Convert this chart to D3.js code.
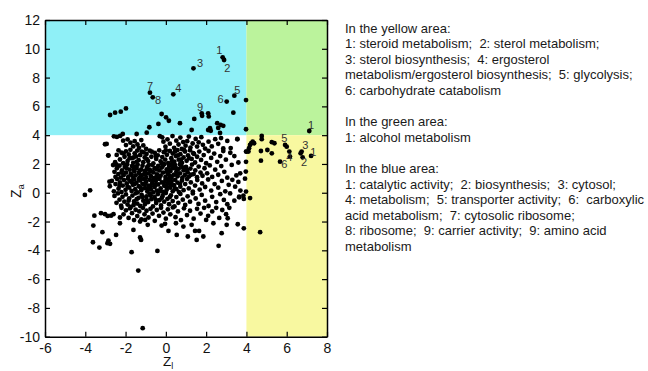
<!DOCTYPE html>
<html>
<head>
<meta charset="utf-8">
<script src="https://cdn.jsdelivr.net/npm/d3@7"></script>
<style>
  body { margin: 0; background: #fff; }
  text { font-family: "Liberation Sans", Arial, Helvetica, sans-serif; }
</style>
</head>
<body>
<div id="chart"></div>
<script>
// axis ticks
const xTicks = [-6, -4, -2, 0, 2, 4, 6, 8];
const yTicks = [-10, -8, -6, -4, -2, 0, 2, 4, 6, 8, 10, 12];

// shaded areas [name, x0, x1, y0, y1]
const areas = [
    ['blue', -6, 4, 4, 12],
    ['green', 4, 8, 4, 12],
    ['yellow', 4, 8, -10, 4]
];
const areaColors = { blue: '#8ff0f7', green: '#bbf39c', yellow: '#f8f8a0' };

// points above Za = 4, left of Zl = 4
const bluePoints = [
    [2.82, 9.41], [2.89, 9.22], [1.37, 8.64], [-0.79, 6.95], [-0.65, 6.63], [0.37, 6.84],
    [3.02, 6.33], [3.4, 6.74], [3.98, 6.44], [3.35, 5.56], [3.98, 4.41], [1.78, 5.52],
    [1.8, 5.34], [2.1, 5.52], [2.13, 5.3], [1.41, 5.13], [0.7, 4.83], [0.01, 5.24],
    [0.15, 5.0], [-0.21, 5.47], [-0.37, 4.78], [-0.82, 4.55], [-0.95, 4.17], [1.28, 4.36],
    [2.19, 4.48], [2.23, 4.3], [2.55, 4.83], [2.72, 4.72], [2.85, 4.65], [2.69, 4.15],
    [-2.77, 5.4], [-2.52, 5.56], [-2.24, 5.63], [-1.98, 5.86], [-2.14, 4.08], [-1.45, 4.08],
    [2.1, 4.36], [2.6, 4.5]
];
const greenPoints = [[7.12, 4.29]];
const yellowPoints = [
    [4.76, 3.95], [4.76, 3.72], [4.31, 3.55], [4.38, 3.44], [4.24, 3.44], [4.18, 3.32],
    [4.01, 2.86], [4.13, 3.09], [4.72, 2.9], [4.72, 2.23], [5.04, 2.97], [5.26, 2.74],
    [5.26, 3.51], [5.39, 3.44], [5.92, 3.32], [6.0, 3.2], [6.13, 2.86], [6.16, 2.51],
    [5.67, 2.16], [6.74, 2.86], [6.69, 2.74], [6.79, 2.46], [7.21, 2.56], [4.68, -2.74],
    [4.18, -0.37], [4.1, 2.86]
];

// main cloud, band by band (Za 3..4)
const cloudTop = [
    [-2.58, 3.92], [-2.43, 3.88], [-2.27, 3.95], [-2.12, 3.62], [-1.98, 3.31], [-1.9, 3.71], [-1.76, 3.48],
    [-1.62, 3.22], [-1.55, 3.58], [-1.41, 3.35], [-1.33, 3.12], [-1.22, 3.66], [-1.12, 3.29], [-0.98, 3.05],
    [-0.3, 3.93], [-0.18, 3.85], [-0.12, 3.55], [-0.02, 3.2], [0.08, 3.71], [0.2, 3.41], [0.33, 3.94],
    [0.41, 3.12], [0.52, 3.62], [0.63, 3.35], [0.72, 3.83], [0.79, 3.04], [0.86, 3.52], [0.98, 3.27],
    [1.06, 3.58], [1.14, 3.9], [1.22, 3.14], [1.33, 3.42], [1.48, 3.74], [1.55, 3.21], [1.63, 3.5],
    [1.76, 3.86], [1.84, 3.33], [1.95, 3.07], [2.12, 3.55], [2.28, 3.22], [2.45, 3.72], [2.6, 3.4],
    [2.74, 3.8], [2.85, 3.08], [3.05, 3.6], [3.55, 3.74], [3.22, 3.1]
];
// Za 2..3
const cloudUpper = [
    [-2.52, 2.12], [-2.44, 2.63], [-2.35, 2.95], [-2.28, 2.31], [-2.2, 2.78], [-2.12, 2.05], [-2.05, 2.5],
    [-1.98, 2.88], [-1.9, 2.2], [-1.84, 2.66], [-1.76, 2.98], [-1.7, 2.4], [-1.62, 2.08], [-1.55, 2.74],
    [-1.48, 2.52], [-1.42, 2.93], [-1.35, 2.26], [-1.28, 2.61], [-1.2, 2.85], [-1.12, 2.12], [-1.05, 2.45],
    [-0.96, 2.7], [-0.88, 2.2], [-0.8, 2.92], [-0.72, 2.5], [-0.62, 2.03], [-0.55, 2.77], [-0.48, 2.35],
    [-0.4, 2.6], [-0.33, 2.95], [-0.26, 2.18], [-0.18, 2.48], [-0.1, 2.82], [-0.03, 2.3], [0.05, 2.64],
    [0.12, 2.06], [0.2, 2.9], [0.27, 2.4], [0.34, 2.72], [0.42, 2.16], [0.5, 2.55], [0.57, 2.96],
    [0.64, 2.3], [0.72, 2.68], [0.8, 2.08], [0.88, 2.45], [0.95, 2.86], [1.03, 2.22], [1.1, 2.6],
    [1.2, 2.95], [1.28, 2.35], [1.36, 2.75], [1.45, 2.1], [1.55, 2.5], [1.66, 2.86], [1.75, 2.28],
    [1.88, 2.62], [2.0, 2.05], [2.12, 2.9], [2.25, 2.42], [2.4, 2.72], [2.55, 2.15], [2.7, 2.55],
    [2.85, 2.9], [2.98, 2.3], [3.2, 2.78], [3.4, 2.55], [3.6, 2.1],
    [-1.6, 2.45], [-1.45, 2.15], [-1.1, 2.8], [-0.95, 2.35], [-0.7, 2.85], [-0.2, 2.05], [0.0, 2.95],
    [0.3, 2.2], [0.6, 2.6], [0.9, 2.98], [1.15, 2.4], [-2.1, 2.72], [-1.8, 2.4], [-0.5, 2.55],
    [0.45, 2.85], [0.75, 2.3], [1.4, 2.7]
];
// Za 1..2
const cloudMiddle = [
    [-2.62, 1.92], [-2.55, 1.45], [-2.5, 1.1], [-2.43, 1.7], [-2.36, 1.3], [-2.3, 1.88], [-2.24, 1.05],
    [-2.18, 1.55], [-2.1, 1.22], [-2.04, 1.78], [-1.98, 1.4], [-1.92, 1.98], [-1.86, 1.12], [-1.8, 1.6],
    [-1.74, 1.32], [-1.68, 1.85], [-1.62, 1.02], [-1.56, 1.5], [-1.5, 1.2], [-1.45, 1.72], [-1.4, 1.95],
    [-1.34, 1.38], [-1.28, 1.08], [-1.22, 1.62], [-1.16, 1.88], [-1.1, 1.28], [-1.04, 1.5], [-0.98, 1.04],
    [-0.92, 1.8], [-0.86, 1.34], [-0.8, 1.6], [-0.74, 1.15], [-0.68, 1.94], [-0.62, 1.42], [-0.56, 1.7],
    [-0.5, 1.06], [-0.44, 1.28], [-0.38, 1.86], [-0.32, 1.55], [-0.26, 1.18], [-0.2, 1.75], [-0.14, 1.4],
    [-0.08, 1.98], [-0.02, 1.1], [0.04, 1.62], [0.1, 1.3], [0.16, 1.85], [0.22, 1.5], [0.28, 1.04],
    [0.34, 1.7], [0.4, 1.25], [0.46, 1.92], [0.52, 1.45], [0.58, 1.14], [0.64, 1.66], [0.7, 1.35],
    [0.76, 1.88], [0.82, 1.05], [0.88, 1.55], [0.94, 1.22], [1.0, 1.8], [1.08, 1.42], [1.15, 1.12],
    [1.22, 1.68], [1.3, 1.96], [1.38, 1.3], [1.46, 1.55], [1.55, 1.08], [1.63, 1.82], [1.72, 1.4],
    [1.82, 1.18], [1.92, 1.7], [2.05, 1.35], [2.18, 1.9], [2.3, 1.1], [2.45, 1.6], [2.6, 1.25],
    [2.75, 1.85], [2.9, 1.45], [3.05, 1.05], [3.27, 1.93], [3.5, 1.2], [3.69, 1.35], [3.97, 1.47],
    [-1.95, 1.7], [-1.7, 1.25], [-1.52, 1.82], [-1.3, 1.52], [-1.2, 1.2], [-0.95, 1.65], [-0.85, 1.92],
    [-0.7, 1.48], [-0.45, 1.62], [-0.35, 1.05], [-0.15, 1.88], [0.05, 1.45], [0.2, 1.18], [0.3, 1.95],
    [0.5, 1.7], [0.6, 1.32], [0.85, 1.75], [1.05, 1.58], [1.25, 1.25], [-2.2, 1.4], [-1.6, 1.62],
    [-1.0, 1.3], [-0.6, 1.02], [0.15, 1.62], [0.7, 1.98], [-2.45, 1.95]
];
// Za 0..1
const cloudLower = [
    [-2.78, 0.45], [-2.68, 0.82], [-2.58, 0.1], [-2.5, 0.6], [-2.42, 0.95], [-2.35, 0.28], [-2.28, 0.72],
    [-2.2, 0.05], [-2.14, 0.5], [-2.08, 0.88], [-2.0, 0.2], [-1.94, 0.65], [-1.88, 0.98], [-1.82, 0.35],
    [-1.76, 0.8], [-1.7, 0.12], [-1.64, 0.55], [-1.58, 0.92], [-1.52, 0.25], [-1.46, 0.7], [-1.4, 0.02],
    [-1.34, 0.45], [-1.28, 0.85], [-1.22, 0.18], [-1.16, 0.62], [-1.1, 0.95], [-1.04, 0.32], [-0.98, 0.75],
    [-0.92, 0.08], [-0.86, 0.5], [-0.8, 0.9], [-0.74, 0.22], [-0.68, 0.66], [-0.62, 0.02], [-0.56, 0.4],
    [-0.5, 0.82], [-0.44, 0.15], [-0.38, 0.58], [-0.32, 0.96], [-0.26, 0.3], [-0.2, 0.72], [-0.14, 0.06],
    [-0.08, 0.48], [-0.02, 0.88], [0.04, 0.2], [0.1, 0.64], [0.16, 0.98], [0.22, 0.35], [0.28, 0.78],
    [0.34, 0.1], [0.4, 0.52], [0.46, 0.9], [0.52, 0.25], [0.58, 0.7], [0.65, 0.05], [0.72, 0.42],
    [0.8, 0.85], [0.88, 0.18], [0.96, 0.6], [1.05, 0.95], [1.14, 0.3], [1.24, 0.72], [1.34, 0.08],
    [1.45, 0.5], [1.56, 0.88], [1.68, 0.22], [1.8, 0.65], [1.95, 0.4], [2.1, 0.92], [2.25, 0.15],
    [2.42, 0.6], [2.6, 0.35], [2.78, 0.82], [2.95, 0.1], [3.12, 0.55], [3.3, 0.9], [3.44, 0.42],
    [3.7, 0.15], [3.93, 0.98], [3.6, 0.75],
    [-1.9, 0.42], [-1.55, 0.6], [-1.25, 0.35], [-1.05, 0.58], [-0.9, 0.3], [-0.65, 0.85], [-0.5, 0.55],
    [-0.3, 0.1], [-0.1, 0.7], [0.05, 0.4], [0.25, 0.55], [0.45, 0.3], [0.7, 0.62], [-1.7, 0.75],
    [-1.35, 0.95], [-0.75, 0.45], [0.15, 0.85], [-2.3, 0.48]
];
// Za -1..0
const cloudBelow = [
    [-2.55, -0.22], [-2.45, -0.7], [-2.38, -0.05], [-2.3, -0.48], [-2.22, -0.9], [-2.15, -0.28], [-2.06, -0.62],
    [-1.98, -0.12], [-1.9, -0.82], [-1.82, -0.4], [-1.74, -0.98], [-1.66, -0.2], [-1.58, -0.6], [-1.5, -0.04],
    [-1.42, -0.75], [-1.35, -0.35], [-1.27, -0.92], [-1.2, -0.15], [-1.12, -0.55], [-1.04, -0.8], [-0.96, -0.25],
    [-0.88, -0.65], [-0.8, -0.08], [-0.72, -0.45], [-0.64, -0.95], [-0.56, -0.3], [-0.48, -0.72], [-0.4, -0.1],
    [-0.32, -0.52], [-0.24, -0.88], [-0.16, -0.22], [-0.08, -0.62], [0.0, -0.02], [0.08, -0.42], [0.16, -0.8],
    [0.25, -0.18], [0.34, -0.58], [0.43, -0.95], [0.52, -0.3], [0.62, -0.7], [0.72, -0.08], [0.84, -0.48],
    [0.96, -0.85], [1.08, -0.25], [1.2, -0.62], [1.34, -0.05], [1.48, -0.4], [1.62, -0.78], [1.78, -0.15],
    [1.95, -0.55], [2.12, -0.92], [2.3, -0.28], [2.5, -0.65], [2.7, -0.1], [2.88, -0.5], [3.05, -0.8],
    [3.19, -0.05], [3.4, -0.55], [3.64, -0.27], [3.87, -0.43],
    [-1.85, -0.55], [-1.45, -0.45], [-1.15, -0.3], [-0.75, -0.2], [-0.5, -0.5], [-0.2, -0.35], [0.2, -0.3],
    [-1.6, -0.85], [-0.95, -0.5]
];
// Za -2..-1
const cloudBottom = [
    [-2.2, -1.05], [-2.1, -1.5], [-1.98, -1.22], [-1.85, -1.75], [-1.78, -1.08], [-1.68, -1.42], [-1.58, -1.9],
    [-1.5, -1.18], [-1.42, -1.62], [-1.32, -1.3], [-1.22, -1.85], [-1.14, -1.05], [-1.06, -1.5], [-0.96, -1.25],
    [-0.86, -1.72], [-0.76, -1.12], [-0.66, -1.45], [-0.55, -1.95], [-0.45, -1.2], [-0.34, -1.6], [-0.24, -1.05],
    [-0.12, -1.38], [0.0, -1.8], [0.1, -1.15], [0.22, -1.5], [0.35, -1.02], [0.48, -1.7], [0.6, -1.3],
    [0.75, -1.9], [0.9, -1.08], [1.05, -1.55], [1.2, -1.25], [1.38, -1.8], [1.55, -1.12], [1.72, -1.45],
    [1.9, -1.05], [2.1, -1.6], [2.3, -1.3], [2.5, -1.05], [2.65, -1.75], [2.8, -1.2], [2.99, -1.49],
    [3.07, -1.77], [3.15, -1.05]
];

// sparse points round the cloud
const outerPoints = [
    [-4.02, -0.15], [-3.76, 0.17], [-3.55, -1.59], [-3.6, -2.28], [-3.62, -3.44], [-3.3, -3.81],
    [-3.15, -2.74], [-3.22, -1.42], [-3.02, -1.49], [-2.89, -1.61], [-2.72, -1.59], [-2.6, -1.49],
    [-2.85, -3.32], [-2.77, -3.55], [-2.9, -3.5], [-2.47, -2.93], [-2.28, -1.72], [-2.28, -2.12],
    [-2.85, 2.58], [-3.02, 3.37], [-2.8, 0.77], [-1.7, -4.13], [-1.37, -5.41], [-1.23, -3.28],
    [-1.28, -3.11], [-0.42, -4.04], [-1.61, -2.58], [2.62, -3.69], [2.77, -2.81], [3.02, -2.23],
    [3.57, -2.19], [3.87, -2.47], [-1.15, -9.41], [3.85, -0.2], [3.98, 0.08], [3.64, -0.32],
    [-2.94, 3.39], [-2.86, 2.6], [0.54, -2.93], [1.09, -3.04], [1.45, -2.65], [1.65, -2.65],
    [1.86, -3.04], [1.53, -3.28], [0.87, -2.35], [1.28, -2.23], [2.0, -1.89], [2.36, -2.12],
    [0.13, -2.65], [-0.21, -2.28], [-0.9, -2.23], [-1.03, -1.89], [-1.28, -2.0], [0.5, -2.12],
    [-0.04, -2.16], [3.55, 3.71], [3.98, 2.86], [3.98, 2.15]
];

// numbered labels [text, Zl, Za]
const blueLabels = [['1', 2.65, 9.92], ['2', 3.05, 8.64], ['3', 1.7, 8.99], ['4', 0.62, 7.26],
    ['5', 3.55, 7.14], ['6', 2.72, 6.49], ['7', -0.79, 7.42], ['8', -0.39, 6.44], ['9', 1.7, 5.98]];
const greenLabels = [['1', 7.21, 4.71]];
const yellowLabels = [['5', 5.88, 3.78], ['3', 6.92, 3.32], ['1', 7.32, 2.86], ['4', 6.13, 2.51],
    ['2', 6.86, 2.12], ['6', 5.88, 2.0]];

// notes on the right
const yellowNotes = ['In the yellow area:',
    '1: steroid metabolism;  2: sterol metabolism;',
    '3: sterol biosynthesis;  4: ergosterol',
    'metabolism/ergosterol biosynthesis;  5: glycolysis;',
    '6: carbohydrate catabolism'];
const greenNotes = ['In the green area:', '1: alcohol metabolism'];
const blueNotes = ['In the blue area:',
    '1: catalytic activity;  2: biosynthesis;  3: cytosol;',
    '4: metabolism;  5: transporter activity;  6:  carboxylic',
    'acid metabolism;  7: cytosolic ribosome;',
    '8: ribosome;  9: carrier activity;  9: amino acid',
    'metabolism'];

const width = 648, height = 371;
const plotLeft = 45, plotRight = 327, plotTop = 20, plotBottom = 336.7;

const svg = d3.select('#chart')
    .append('svg')
        .attr('width', width)
        .attr('height', height);

const x = d3.scaleLinear().domain([-6, 8]).range([plotLeft, plotRight]);
const y = d3.scaleLinear().domain([-10, 12]).range([plotBottom, plotTop]);

svg.selectAll('rect.area')
    .data(areas)
    .join('rect')
        .attr('class', 'area')
        .attr('x', d => x(d[1]))
        .attr('y', d => y(d[4]))
        .attr('width', d => x(d[2]) - x(d[1]))
        .attr('height', d => y(d[3]) - y(d[4]))
        .attr('fill', d => areaColors[d[0]]);

const allPoints = [...cloudTop, ...cloudUpper, ...cloudMiddle, ...cloudLower, ...cloudBelow,
    ...cloudBottom, ...outerPoints, ...bluePoints, ...greenPoints, ...yellowPoints];

svg.append('g')
    .selectAll('circle')
    .data(allPoints)
    .join('circle')
        .attr('cx', d => x(d[0]))
        .attr('cy', d => y(d[1]))
        .attr('r', 2.4)
        .attr('fill', '#000');

svg.append('g')
    .selectAll('text')
    .data([...blueLabels, ...greenLabels, ...yellowLabels])
    .join('text')
        .attr('x', d => x(d[1]))
        .attr('y', d => y(d[2]))
        .attr('text-anchor', 'middle')
        .attr('dominant-baseline', 'central')
        .attr('font-size', 11)
        .attr('fill', '#333')
        .text(d => d[0]);

// axes, ticks point inward on all four sides
const tickLen = 5;
const fmt = d => String(d);

const axes = [
    [d3.axisBottom(x).tickValues(xTicks).tickFormat(fmt).tickPadding(6), `translate(0,${plotBottom})`],
    [d3.axisTop(x).tickValues(xTicks).tickFormat(''), `translate(0,${plotTop})`],
    [d3.axisLeft(y).tickValues(yTicks).tickFormat(fmt).tickPadding(5), `translate(${plotLeft},0)`],
    [d3.axisRight(y).tickValues(yTicks).tickFormat(''), `translate(${plotRight},0)`]
];
axes.forEach(([ax, tr]) => {
    const g = svg.append('g')
        .attr('transform', tr)
        .call(ax.tickSizeInner(-tickLen).tickSizeOuter(0));
    g.select('.domain').attr('stroke', '#000').attr('stroke-width', 1.5);
    g.selectAll('.tick line').attr('stroke', '#000').attr('stroke-width', 1.2);
    g.selectAll('.tick text')
        .attr('font-size', 14)
        .attr('font-family', '"Liberation Sans", Arial, sans-serif')
        .attr('fill', '#111');
});

// axis titles
const xTitle = svg.append('text')
    .attr('x', 163)
    .attr('y', 366)
    .attr('font-size', 13.5)
    .attr('fill', '#111');
xTitle.append('tspan').text('Z');
xTitle.append('tspan').attr('font-size', 9).attr('dy', 2.5).text('l');

const yTitle = svg.append('text')
    .attr('transform', 'translate(21,191) rotate(-90)')
    .attr('text-anchor', 'middle')
    .attr('font-size', 14)
    .attr('fill', '#111');
yTitle.append('tspan').text('Z');
yTitle.append('tspan').attr('font-size', 9.5).attr('dy', 2.5).text('a');

// notes block
const noteLines = [...yellowNotes, '', ...greenNotes, '', ...blueNotes];
svg.append('g')
    .selectAll('text')
    .data(noteLines)
    .join('text')
        .attr('x', 345)
        .attr('y', (d, i) => 32.5 + i * 15.6)
        .attr('font-size', 13)
        .attr('fill', '#1a1a1a')
        .style('white-space', 'pre')
        .text(d => d);
</script>
</body>
</html>
